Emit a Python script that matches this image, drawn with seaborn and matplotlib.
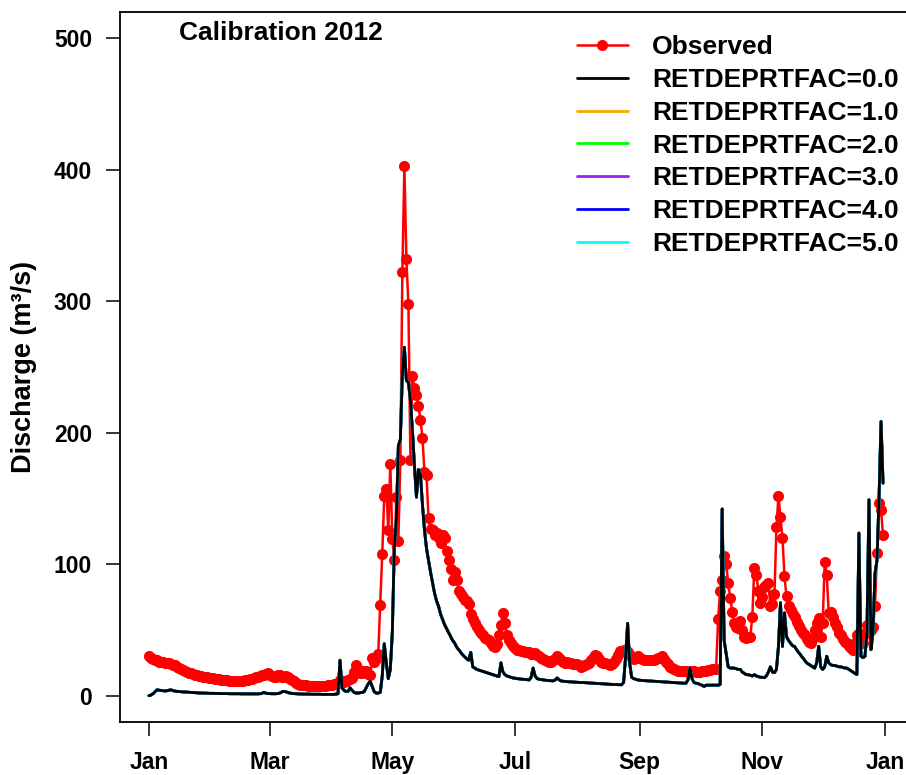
import numpy as np
import pandas as pd
import matplotlib
matplotlib.use("Agg")
import matplotlib.pyplot as plt
import seaborn as sns

# ---- Observed daily discharge (m3/s), 2012, one list per month ----
obs_jan = [30, 29, 28, 27.5, 27, 26, 26, 25.5, 25, 25, 24.5, 24, 23.5, 23, 22, 21,
           20.5, 19.5, 19, 18, 17.5, 17, 16.5, 16, 15.5, 15, 14.8, 14.5, 14.2, 14, 13.7]
obs_feb = [13.5, 13.2, 13, 12.8, 12.5, 12.3, 12, 12, 11.8, 11.5, 11.5, 11.3, 11.2, 11, 11,
           11.2, 11.5, 11.8, 12, 12.5, 13, 13.5, 14, 14.5, 15, 15.5, 16, 16.5, 17]
obs_mar = [16, 15, 14, 14.5, 16, 15.5, 14.5, 14, 15, 14.5, 13, 12, 11, 10, 9, 8.5, 8, 8,
           7.8, 7.6, 7.5, 7.5, 7.6, 7.5, 7.4, 7.5, 7.6, 7.5, 7.5, 7.8, 8]
obs_apr = [8.4, 8.6, 9, 10, 12, 11, 10.5, 11, 12, 13, 13.4, 18, 23.6, 20, 17.2, 17, 18.5,
           18.5, 16.5, 16, 28.6, 26, 28, 32, 69, 108, 152, 157, 126, 176]
obs_may = [119, 103, 151, 118, 179, 322, 403, 332, 298, 179, 243, 234, 229, 220, 210, 196,
           170, 168, 135, 127, 126, 122, 124, 120, 116, 122, 120, 110, 103, 96, 88]
obs_jun = [94, 88, 80, 77, 75, 73, 72, 70, 62, 58, 55, 52, 50, 48, 46, 44, 43, 42, 40, 38,
           37, 39, 46, 54, 63, 55, 46, 42, 40, 38]
obs_jul = [36, 35, 35, 34, 34, 33, 33, 33, 32, 32, 32.5, 31, 30, 29, 28, 27, 26.5, 26, 26,
           27, 28, 30, 29, 27, 26, 25, 26, 25, 24.5, 24, 24]
obs_aug = [24, 23, 22, 22.5, 23, 24, 25, 27, 29, 31, 30, 28, 26, 25, 24.5, 24, 23.6, 24, 26,
           28, 31, 33.7, 34, 35, 35, 33, 31, 29, 28, 29, 30]
obs_sep = [29, 28, 27, 27, 27, 27, 27, 27.5, 28, 28.5, 29, 30, 28, 26, 24, 22, 21, 20, 19.5,
           19, 18.5, 18.5, 18.5, 18.5, 18, 18.5, 18.5, 18.5, 18, 18]
obs_oct = [18, 18.5, 19, 19, 19.5, 19.5, 20, 20, 20.5, 58, 80, 88, 106, 100, 86, 74.5, 64,
           55.5, 52, 51.7, 56.5, 50, 45, 44, 45, 45, 60, 97, 92, 80, 70.5]
obs_nov = [75, 83, 84, 85.7, 68, 70, 77, 128, 152, 136, 120, 90.7, 75.5, 68, 65, 62, 60, 56,
           52.7, 50, 48, 46.4, 43, 41, 40, 44, 50, 55, 59, 45]
obs_dec = [55, 102, 92, 63, 64, 60, 55, 52, 48, 46, 43, 41, 40, 38, 36, 35, 40, 46, 47.7, 44,
           40, 47, 54, 52, 50, 52, 68, 108.5, 146.5, 141.4, 122]

# ---- Simulated daily discharge (m3/s), 2012 ----
sim_jan = [0, 0.5, 1.5, 3, 4.5, 4.2, 4, 3.8, 3.6, 3.8, 4.2, 4.5, 3.8, 3.5, 3.3, 3.2, 3, 2.9,
           2.8, 2.7, 2.6, 2.5, 2.4, 2.3, 2.2, 2.1, 2, 2, 1.9, 1.9, 1.8]
sim_feb = [1.8, 1.8, 1.7, 1.7, 1.7, 1.6, 1.6, 1.6, 1.6, 1.5, 1.5, 1.5, 1.5, 1.5, 1.5, 1.4,
           1.4, 1.4, 1.4, 1.4, 1.4, 1.4, 1.4, 1.4, 1.5, 1.6, 2.5, 2, 1.7]
sim_mar = [1.6, 1.5, 1.5, 1.5, 1.6, 2, 2.8, 3.3, 3, 2.5, 2, 1.8, 1.6, 1.5, 1.4, 1.3, 1.3,
           1.2, 1.2, 1.2, 1.2, 1.1, 1.1, 1.1, 1.1, 1.1, 1.0, 1.0, 1.0, 1.0, 1.0]
sim_apr = [1.0, 1.0, 1.2, 1.5, 27, 6, 4, 3.3, 3.3, 6, 4, 2.5, 2, 2, 2.3, 2.5, 3, 6, 9, 11,
           7, 3, 2, 2, 2.5, 15, 39.5, 25, 13, 20]
sim_may = [48, 113, 134, 190, 195, 245, 265, 240, 238, 225, 202, 175, 151, 172, 168, 145,
           126, 112, 103, 94, 86, 78, 72, 68, 62, 58, 54, 51, 48, 45, 42]
sim_jun = [40, 37, 35, 33, 31, 29.5, 28, 27, 33, 22, 21, 20, 19.5, 19, 18.5, 18, 17.5, 17,
           16.5, 16, 15.5, 15, 14.5, 25, 18, 16, 15, 14.5, 14, 13.5]
sim_jul = [13.3, 13, 12.8, 12.6, 12.5, 12.3, 12.2, 12, 14, 21, 15, 13, 12.5, 12.3, 12, 11.8,
           11.6, 11.5, 11.4, 11.3, 12, 13.5, 12, 11.2, 11, 10.8, 10.7, 10.6, 10.5, 10.4, 10.3]
sim_aug = [10.2, 10.1, 10, 10, 9.9, 9.8, 9.7, 9.6, 9.5, 9.4, 9.3, 9.2, 9.1, 9, 8.9, 8.8, 8.7,
           8.6, 8.5, 8.5, 8.4, 8.4, 8.3, 10, 30, 55, 25, 14, 13, 12.5, 12]
sim_sep = [11.8, 11.6, 11.5, 11.4, 11.3, 11.2, 11.1, 11, 10.9, 10.8, 10.7, 10.6, 10.5, 10.4,
           10.3, 10.2, 10.1, 10, 9.9, 9.8, 9.7, 9.6, 9.5, 9.5, 12, 21, 13, 10, 9.5, 9.3]
sim_oct = [8.5, 8, 7, 8, 8, 8, 8, 8, 8, 8, 8.5, 142, 42, 32, 22, 21, 21, 21, 20.5, 20, 20,
           18, 17, 16, 16, 15.5, 15, 16, 15, 14.5, 14]
sim_nov = [14, 13.7, 15, 18, 22, 18, 17.5, 20, 37.5, 70.7, 37.5, 63, 45, 42, 40, 38, 37.5,
           35, 33, 31, 29, 27, 25, 24, 23, 22, 21, 25, 37.5, 22]
sim_dec = [20, 22, 30, 25, 23.6, 23, 23, 22.5, 22, 22, 21.5, 21, 21, 20, 19, 18, 17, 16,
           123.7, 30, 29, 30, 48, 149, 35, 48, 93, 103, 150, 208.6, 161.7]

run_labels = ["RETDEPRTFAC=0.0", "RETDEPRTFAC=1.0", "RETDEPRTFAC=2.0",
              "RETDEPRTFAC=3.0", "RETDEPRTFAC=4.0", "RETDEPRTFAC=5.0"]
run_colors = ["#000000", "#FFA500", "#00FF00", "#A020F0", "#0000FF", "#00FFFF"]
month_labels = ["Jan", "Mar", "May", "Jul", "Sep", "Nov", "Jan"]
month_starts = ["2012-01-01", "2012-03-01", "2012-05-01", "2012-07-01",
                "2012-09-01", "2012-11-01", "2013-01-01"]
y_ticks = [0, 100, 200, 300, 400, 500]

sns.set_theme(style="white")
plt.rcParams["font.family"] = ["Liberation Sans", "DejaVu Sans"]
plt.rcParams["font.weight"] = "bold"
plt.rcParams["text.color"] = "black"
plt.rcParams["axes.labelcolor"] = "black"

dates = pd.date_range("2012-01-01", "2012-12-31", freq="D")
observed = sum([obs_jan, obs_feb, obs_mar, obs_apr, obs_may, obs_jun,
                obs_jul, obs_aug, obs_sep, obs_oct, obs_nov, obs_dec], [])
simulated = sum([sim_jan, sim_feb, sim_mar, sim_apr, sim_may, sim_jun,
                 sim_jul, sim_aug, sim_sep, sim_oct, sim_nov, sim_dec], [])

df = pd.DataFrame({"date": dates, "Observed": observed})
# the six retention-depth runs give practically the same hydrograph
for lab in run_labels:
    df[lab] = simulated

fig = plt.figure(figsize=(9.06, 7.75), dpi=100)
ax = fig.add_axes([120 / 906, 1 - 722 / 775, 792 / 906, 710 / 775])

sns.lineplot(data=df, x="date", y="Observed", ax=ax, color="#FF0000", lw=1.8,
             marker="o", markersize=8, markeredgewidth=0, label="Observed",
             estimator=None, zorder=2)
for i, (lab, col) in enumerate(zip(run_labels, run_colors)):
    sns.lineplot(data=df, x="date", y=lab, ax=ax, color=col, lw=2.0, label=lab,
                 estimator=None, zorder=5 if i == 0 else 3)

t0 = pd.Timestamp("2012-01-01")
ax.set_xlim(t0 - pd.Timedelta(days=14.4), t0 + pd.Timedelta(days=379.4))
ax.set_ylim(-20, 520)
ax.set_yticks(y_ticks)
ax.set_yticklabels([str(v) for v in y_ticks])
ax.set_xticks(pd.to_datetime(month_starts))
ax.set_xticklabels(month_labels)
ax.set_xlabel("")
ax.set_ylabel("Discharge (m³/s)", fontsize=19.5, fontweight="bold", va="center",
              color="black")
ax.yaxis.set_label_coords(-0.121, 0.5)

for side in ["left", "top", "bottom", "right"]:
    ax.spines[side].set_visible(True)
    ax.spines[side].set_color("black")
    ax.spines[side].set_linewidth(1.3)

ax.tick_params(axis="both", which="major", direction="out", length=10, width=1.1,
               color="black", labelsize=16.5, labelcolor="black", bottom=True, left=True)
ax.tick_params(axis="y", pad=10)
ax.tick_params(axis="x", pad=11)
for lbl in ax.get_xticklabels() + ax.get_yticklabels():
    lbl.set_fontweight("bold")

ax.text((179 - 120) / 792, (722 - 40) / 710, "Calibration 2012", transform=ax.transAxes,
        fontsize=19, fontweight="bold", ha="left", va="baseline", color="black")

leg = ax.legend(loc="upper left", bbox_to_anchor=(577 / 906, 1 - 35.5 / 775),
                bbox_transform=fig.transFigure, frameon=False, fontsize=19,
                handlelength=1.93, handletextpad=0.91, labelspacing=0.33,
                borderpad=0, borderaxespad=0)
for txt in leg.get_texts():
    txt.set_fontweight("bold")
    txt.set_color("black")

fig.savefig("out.png", dpi=100)
